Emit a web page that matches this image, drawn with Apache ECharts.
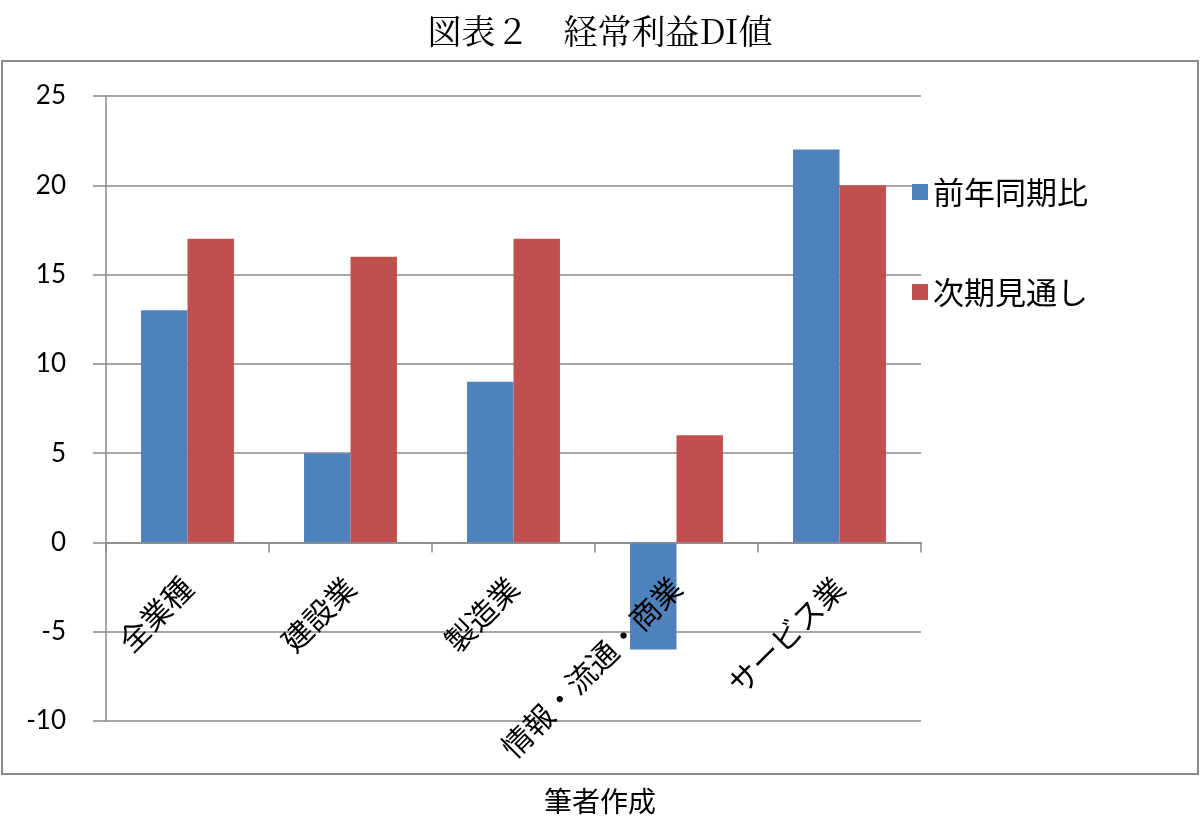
<!DOCTYPE html>
<html>
<head>
<meta charset="utf-8">
<script src="https://cdn.jsdelivr.net/npm/echarts@6/dist/echarts.min.js"></script>
<style>
html,body{margin:0;padding:0;background:#fff;}
#chart{width:1200px;height:839px;}
</style>
</head>
<body>
<div id="chart"></div>
<script>
const categories = ['全業種', '建設業', '製造業', '情報・流通・商業', 'サービス業'];
const seriesNames = ['前年同期比', '次期見通し'];
const yoyValues = [13, 5, 9, -6, 22];
const outlookValues = [17, 16, 17, 6, 20];
const yTicks = { min: -10, max: 25, interval: 5 };
const titleText = '図表２　経常利益DI値';
const footerText = '筆者作成';

const gridTop = 96, gridBottom = 118, chartH = 839;
const plotH = chartH - gridTop - gridBottom;
// move the category axis (line, ticks, labels) up to the zero value
const zeroOffset = -((0 - yTicks.min) / (yTicks.max - yTicks.min)) * plotH;

const chart = echarts.init(document.getElementById('chart'), null, { renderer: 'canvas' });
const cjk = "'Noto Sans CJK JP', 'Noto Sans CJK SC', sans-serif";
const option = {
  backgroundColor: '#ffffff',
  animation: false,
  title: {
    text: titleText,
    left: 'center',
    top: 9,
    textStyle: { fontFamily: "'Noto Serif CJK JP', " + cjk, fontSize: 34, fontWeight: 'normal', color: '#000' }
  },
  graphic: [
    {
      type: 'rect', z: -1, silent: true,
      shape: { x: 2, y: 61, width: 1196, height: 713 },
      style: { fill: 'none', stroke: '#8a8a8a', lineWidth: 2 }
    },
    {
      type: 'text', left: 'center', top: 787, silent: true,
      style: { text: footerText, font: "28px " + cjk, fill: '#000' }
    }
  ],
  legend: {
    orient: 'vertical',
    left: 907,
    top: 169,
    itemWidth: 16,
    itemHeight: 16,
    itemGap: 64,
    itemTextGap: 10,
    icon: 'rect',
    data: seriesNames,
    textStyle: { fontFamily: cjk, fontSize: 31, color: '#000', lineHeight: 36 }
  },
  grid: { left: 106, right: 279, top: gridTop, bottom: gridBottom, containLabel: false, outerBoundsMode: 'none' },
  xAxis: {
    type: 'category',
    data: categories,
    offset: zeroOffset,
    z: 5,
    axisLine: { onZero: false, lineStyle: { color: '#888888', width: 1.5 } },
    axisTick: { show: true, length: 10, interval: 0, lineStyle: { color: '#888888', width: 1.5 } },
    axisLabel: {
      interval: 0, rotate: 45, margin: 40,
      fontFamily: cjk, fontSize: 30, color: '#000'
    },
    splitLine: { show: false }
  },
  yAxis: {
    type: 'value',
    min: yTicks.min, max: yTicks.max, interval: yTicks.interval,
    axisLine: { show: true, lineStyle: { color: '#888888', width: 1.5 } },
    axisTick: { show: true, length: 13, lineStyle: { color: '#888888', width: 1.5 } },
    axisLabel: { margin: 40, fontFamily: "Lato, 'Open Sans', sans-serif", fontSize: 26, color: '#000' },
    splitLine: { show: true, lineStyle: { color: '#888888', width: 1.5 } }
  },
  series: [
    {
      name: seriesNames[0], type: 'bar', data: yoyValues,
      barGap: '0%', barCategoryGap: '43%',
      itemStyle: { color: '#4F81BD' }
    },
    {
      name: seriesNames[1], type: 'bar', data: outlookValues,
      barGap: '0%', barCategoryGap: '43%',
      itemStyle: { color: '#C0504D' }
    }
  ]
};
chart.setOption(option);
</script>
</body>
</html>
